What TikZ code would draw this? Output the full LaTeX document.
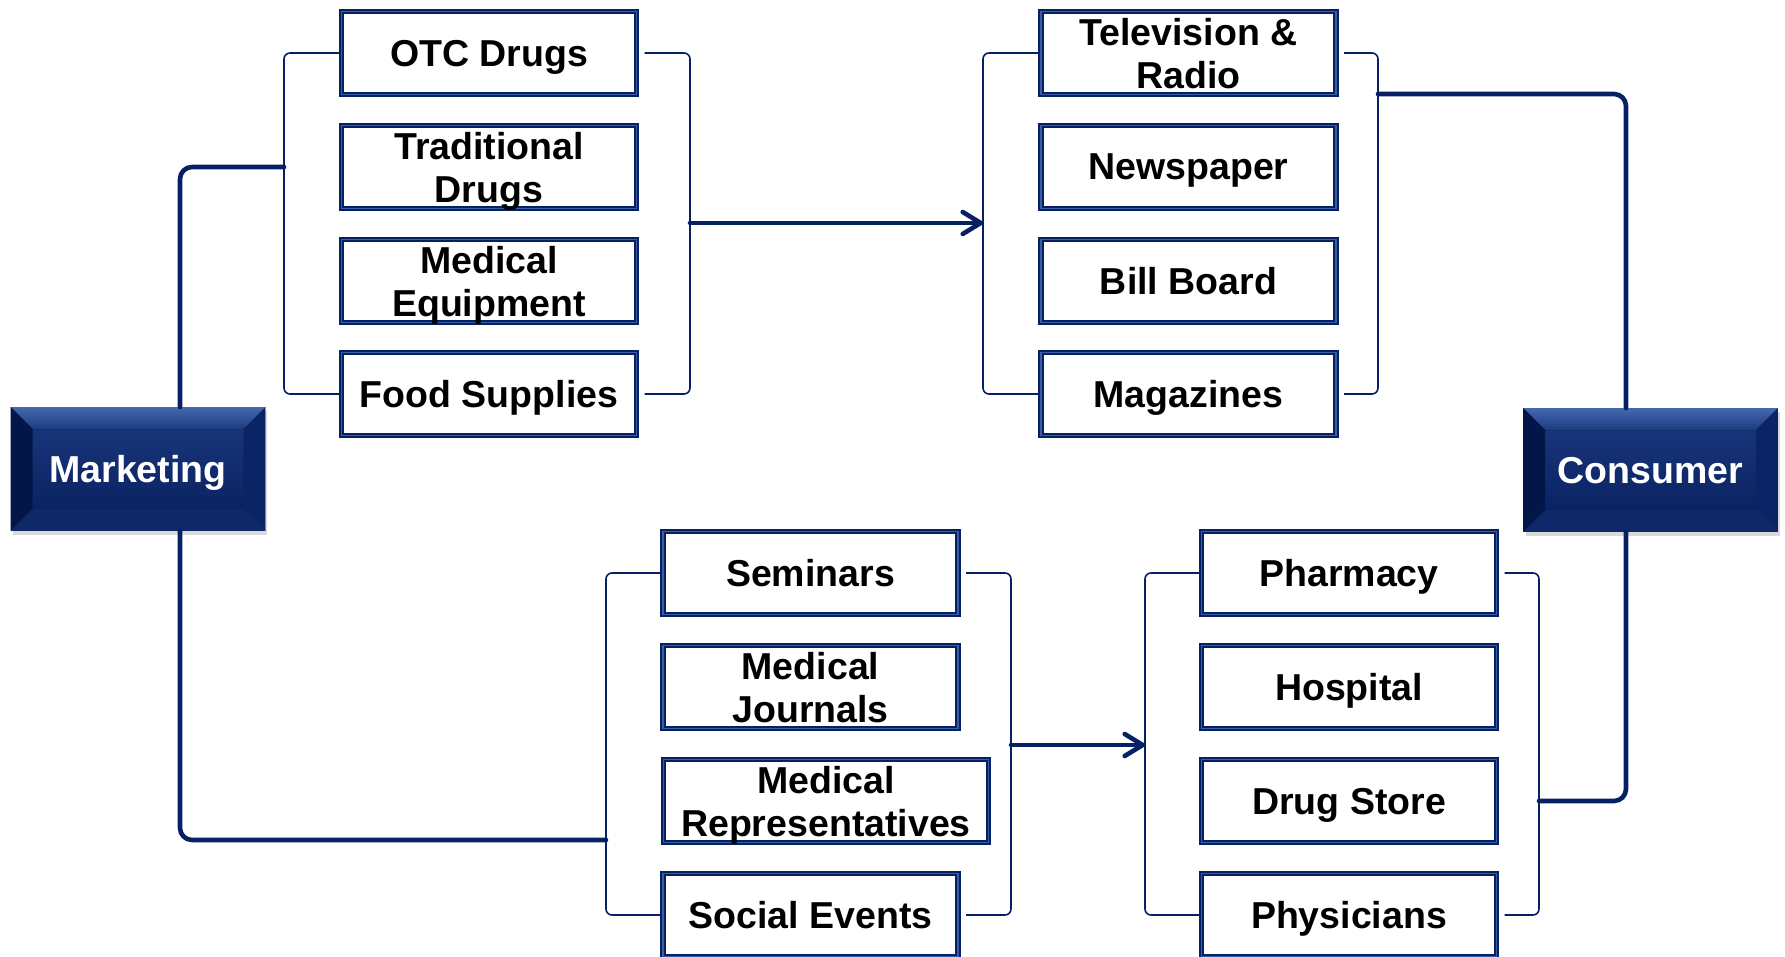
\documentclass[tikz,border=0pt]{standalone}
\usepackage{fontspec}
\setmainfont{Liberation Sans}
\usetikzlibrary{arrows.meta, calc, positioning, shadows}
\definecolor{mktNavy}{RGB}{ 5, 33, 99}
\definecolor{boxMid} {RGB}{ 60, 92,165}
\definecolor{faceTop}{RGB}{ 28, 58,128}
\definecolor{faceBot}{RGB}{  6, 30, 92}
\definecolor{bevHi}  {RGB}{ 70,104,175}
\definecolor{bevDk}  {RGB}{  3, 22, 72}
\definecolor{bevSide}{RGB}{ 10, 36,102}
\definecolor{bevLow} {RGB}{ 14, 40,104}

\begin{document}
\begin{tikzpicture}[x=0.5pt, y=-0.5pt,
  %% Item box (white, double navy border)
  item/.style={
    rectangle, fill=white, draw=mktNavy, line width=1pt,
    double=boxMid, double distance=0.8pt,
    minimum width=147.5pt, minimum height=41.5pt, inner sep=1pt,
    text depth=0pt,
    align=center, font=\fontsize{18.75}{21.5}\selectfont\bfseries
  },
  %% End box (Marketing / Consumer)
  endbox/.style={
    rectangle, minimum width=127pt, minimum height=61.5pt,
    top color=faceTop, bottom color=faceBot, text=white, text depth=0pt,
    font=\fontsize{18.75}{21.5}\selectfont\bfseries,
    drop shadow={shadow xshift=1.2pt, shadow yshift=-2pt, opacity=0.3}
  },
  %% Thin bracket around a group
  brk/.style={draw=mktNavy, line width=0.8pt, rounded corners=3pt},
  %% Thick connector
  conn/.style={draw=mktNavy, line width=2.3pt, rounded corners=6pt, line cap=round},
  %% Flow arrow between groups
  farr/.style={draw=mktNavy, line width=2.3pt, line cap=round,
    -{Straight Barb[round, length=9pt, width=11pt]}},
]
\useasboundingbox (0,0) rectangle (1785,957);

%% ── Column x / row y (pixels) ───────────────────────────────────────────────
\def\xA{489}     % products
\def\xB{1188.5}  % media
\def\xC{810.5}   % promotion
\def\xD{1349}    % outlets
\def\yA{53}  \def\yB{167}  \def\yC{281}  \def\yD{394}
\def\yE{573} \def\yF{687}  \def\yG{801}  \def\yH{915}

%% ── END BOXES ───────────────────────────────────────────────────────────────
\node[endbox] (Mkt) at (138,469) {Marketing};
\node[endbox] (Con) at (1650.5,470) {Consumer};
\foreach \b in {Mkt,Con}{
  \fill[top color=bevHi, bottom color=faceTop]
    (\b.north west) -- (\b.north east) -- ([shift={(-11pt,-11pt)}]\b.north east)
    -- ([shift={(11pt,-11pt)}]\b.north west) -- cycle;
  \fill[bevDk]
    (\b.north west) -- ([shift={(11pt,-11pt)}]\b.north west)
    -- ([shift={(11pt,11pt)}]\b.south west) -- (\b.south west) -- cycle;
  \fill[bevSide]
    (\b.north east) -- ([shift={(-11pt,-11pt)}]\b.north east)
    -- ([shift={(-11pt,11pt)}]\b.south east) -- (\b.south east) -- cycle;
  \fill[bevLow]
    (\b.south west) -- ([shift={(11pt,11pt)}]\b.south west)
    -- ([shift={(-11pt,11pt)}]\b.south east) -- (\b.south east) -- cycle;
}

%% ── PRODUCTS ────────────────────────────────────────────────────────────────
\node[item] (OTC)  at (\xA,\yA) {OTC Drugs};
\node[item] (Trad) at (\xA,\yB) {Traditional\\Drugs};
\node[item] (MedE) at (\xA,\yC) {Medical\\Equipment};
\node[item] (Food) at (\xA,\yD) {Food Supplies};
\coordinate (prL) at (284,223);
\coordinate (prR) at (690,223);

%% ── MEDIA ───────────────────────────────────────────────────────────────────
\node[item] (TV)   at (\xB,\yA) {Television \&\\Radio};
\node[item] (News) at (\xB,\yB) {Newspaper};
\node[item] (Bill) at (\xB,\yC) {Bill Board};
\node[item] (Mag)  at (\xB,\yD) {Magazines};
\coordinate (meL) at (983,223);
\coordinate (meR) at (1378,223);

%% ── PROMOTION ───────────────────────────────────────────────────────────────
\node[item] (Sem)  at (\xC,\yE) {Seminars};
\node[item] (Jour) at (\xC,\yF) {Medical\\Journals};
\node[item, minimum width=162.5pt]
  (Rep) at (826,\yG) {Medical\\Representatives};
\node[item] (Soc)  at (\xC,\yH) {Social Events};
\coordinate (poL) at (606,745);
\coordinate (poR) at (1011,745);

%% ── OUTLETS ─────────────────────────────────────────────────────────────────
\node[item] (Phar) at (\xD,\yE) {Pharmacy};
\node[item] (Hosp) at (\xD,\yF) {Hospital};
\node[item] (Drug) at (\xD,\yG) {Drug Store};
\node[item] (Phys) at (\xD,\yH) {Physicians};
\coordinate (ouL) at (1145,745);
\coordinate (ouR) at (1539,745);

%% ── BRACKETS ────────────────────────────────────────────────────────────────
\draw[brk] (OTC.west) -| (prL) |- (Food.west);
\draw[brk] ([xshift=3.5pt]OTC.east) -| (prR) |- ([xshift=3.5pt]Food.east);
\draw[brk] (TV.west) -| (meL) |- (Mag.west);
\draw[brk] ([xshift=3.5pt]TV.east) -| (meR) |- ([xshift=3.5pt]Mag.east);
\draw[brk] (Sem.west) -| (poL) |- (Soc.west);
\draw[brk] ([xshift=3.5pt]Sem.east) -| (poR) |- ([xshift=3.5pt]Soc.east);
\draw[brk] (Phar.west) -| (ouL) |- (Phys.west);
\draw[brk] ([xshift=3.5pt]Phar.east) -| (ouR) |- ([xshift=3.5pt]Phys.east);

%% ── FLOW ────────────────────────────────────────────────────────────────────
\draw[farr] (prR) -- (meL);
\draw[farr] (poR) -- (ouL);

%% ── MARKETING / CONSUMER LINKS ──────────────────────────────────────────────
\coordinate (poIn)  at (606,840);
\coordinate (meOut) at (1378,94);
\draw[conn] ([xshift=21pt]Mkt.north) |- (prL |- Trad.west);
\draw[conn] ([xshift=21pt]Mkt.south) |- (poIn);
\draw[conn] (meOut) -| ([xshift=-12.25pt]Con.north);
\draw[conn] (ouR |- Drug.east) -| ([xshift=-12.25pt]Con.south);

\end{tikzpicture}
\end{document}
